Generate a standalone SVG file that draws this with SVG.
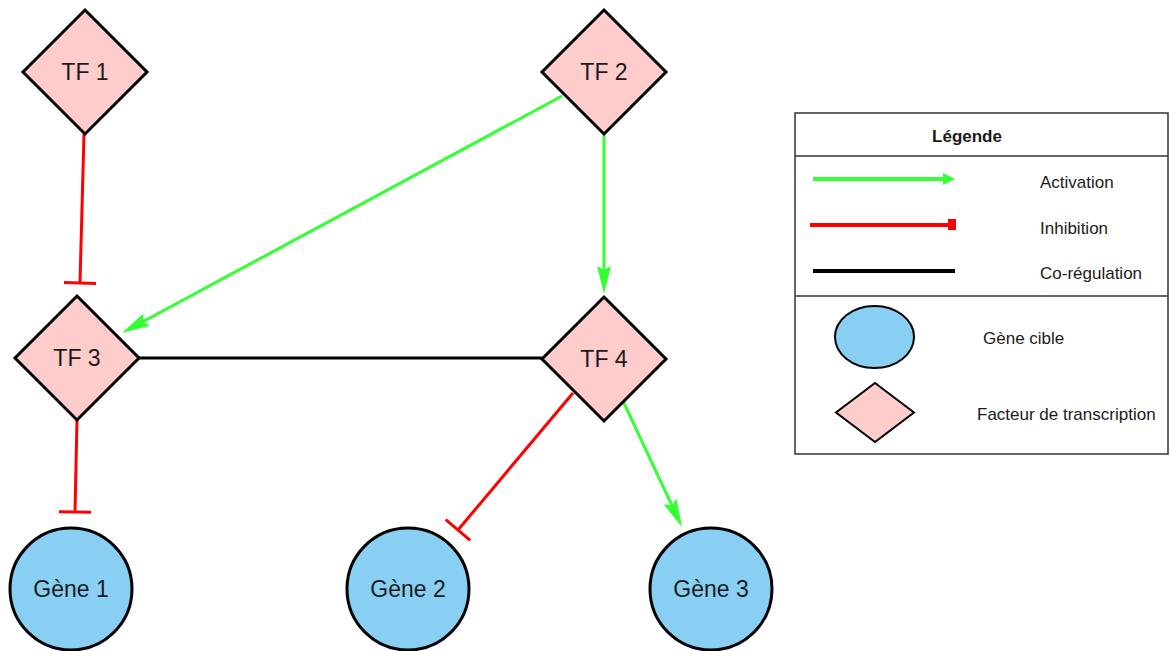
<svg xmlns="http://www.w3.org/2000/svg" width="1170" height="651" viewBox="0 0 1170 651">
<style>
.tf{fill:#FFCCCC;stroke:#000;stroke-width:3;stroke-linejoin:miter}
.gene{fill:#89CFF3;stroke:#000;stroke-width:3}
.lbl{font-family:"Liberation Sans",Arial,sans-serif;font-size:23px;fill:#1a1a1a;text-anchor:middle}
.leg{font-family:"Liberation Sans",Arial,sans-serif;font-size:17px;fill:#1a1a1a}
.act{stroke:#33FF33;stroke-width:3;fill:none}
.inh{stroke:#FF0000;stroke-width:3;fill:none}
.co{stroke:#000;stroke-width:3;fill:none}
</style>
<defs>
<marker id="arr" markerUnits="userSpaceOnUse" viewBox="-50 -8 52 16" markerWidth="52" markerHeight="16" refX="-20" refY="0" orient="auto">
<path d="M0,0 L-28,-7 L-24,0 L-28,7 Z" fill="#33FF33"/>
</marker>
<marker id="tbar" markerUnits="userSpaceOnUse" viewBox="-3 -18 6 36" markerWidth="6" markerHeight="36" refX="0" refY="0" orient="auto">
<path d="M0,-16 L0,16" stroke="#FF0000" stroke-width="3"/>
</marker>
<marker id="legarr" markerUnits="userSpaceOnUse" viewBox="-14 -7 15 14" markerWidth="15" markerHeight="14" refX="-10" refY="0" orient="auto">
<path d="M0,0 L-12,-6 L-12,6 Z" fill="#33FF33"/>
</marker>
</defs>
<rect width="1170" height="651" fill="#fff"/>
<g id="connectors">
<line class="inh" x1="84" y1="134" x2="80" y2="283" marker-end="url(#tbar)"/>
<line class="inh" x1="77" y1="420" x2="75" y2="512" marker-end="url(#tbar)"/>
<line class="inh" x1="573" y1="393" x2="458" y2="530" marker-end="url(#tbar)"/>
<line class="act" x1="562" y1="96" x2="139.6" y2="323.5" marker-end="url(#arr)"/>
<line class="act" x1="604" y1="134" x2="604" y2="274" marker-end="url(#arr)"/>
<line class="act" x1="623" y1="401" x2="673.5" y2="508.9" marker-end="url(#arr)"/>
<line class="co" x1="139" y1="358" x2="542" y2="358"/>
</g>
<g id="tf1"><polygon class="tf" points="85,10 147,72 85,134 23,72"/><text class="lbl" x="85" y="80">TF 1</text></g>
<g id="tf2"><polygon class="tf" points="604,10 666,72 604,134 542,72"/><text class="lbl" x="604" y="80">TF 2</text></g>
<g id="tf3"><polygon class="tf" points="77,296 139,358 77,420 15,358"/><text class="lbl" x="77" y="366">TF 3</text></g>
<g id="tf4"><polygon class="tf" points="604,297 666,359 604,421 542,359"/><text class="lbl" x="604" y="367">TF 4</text></g>
<g id="gene1"><circle class="gene" cx="71" cy="589" r="61"/><text class="lbl" x="71" y="597">Gène 1</text></g>
<g id="gene2"><circle class="gene" cx="408" cy="589" r="61"/><text class="lbl" x="408" y="597">Gène 2</text></g>
<g id="gene3"><circle class="gene" cx="711" cy="589" r="61"/><text class="lbl" x="711" y="597">Gène 3</text></g>
<g id="legend">
<rect x="795" y="113" width="373" height="341" fill="#fff" stroke="#333" stroke-width="1.5"/>
<line x1="795" y1="156" x2="1168" y2="156" stroke="#333" stroke-width="1.5"/>
<line x1="795" y1="296" x2="1168" y2="296" stroke="#333" stroke-width="1.5"/>
<text class="leg" x="967" y="142" text-anchor="middle" font-weight="bold" font-size="16">Légende</text>
<line x1="813" y1="179" x2="945" y2="179" stroke="#33FF33" stroke-width="4" marker-end="url(#legarr)"/>
<text class="leg" x="1040" y="188">Activation</text>
<line x1="810" y1="225" x2="950" y2="225" stroke="#FF0000" stroke-width="4"/>
<rect x="948" y="219" width="8" height="11" fill="#FF0000"/>
<text class="leg" x="1040" y="234">Inhibition</text>
<line x1="813" y1="271" x2="955" y2="271" stroke="#000" stroke-width="4"/>
<text class="leg" x="1040" y="279">Co-régulation</text>
<ellipse cx="874.5" cy="337" rx="39.5" ry="31" fill="#89CFF3" stroke="#000" stroke-width="2"/>
<text class="leg" x="983" y="344">Gène cible</text>
<polygon points="875,383 914,412.5 875,442 836,412.5" fill="#FFCCCC" stroke="#000" stroke-width="2"/>
<text class="leg" x="977" y="420">Facteur de transcription</text>
</g>
</svg>
